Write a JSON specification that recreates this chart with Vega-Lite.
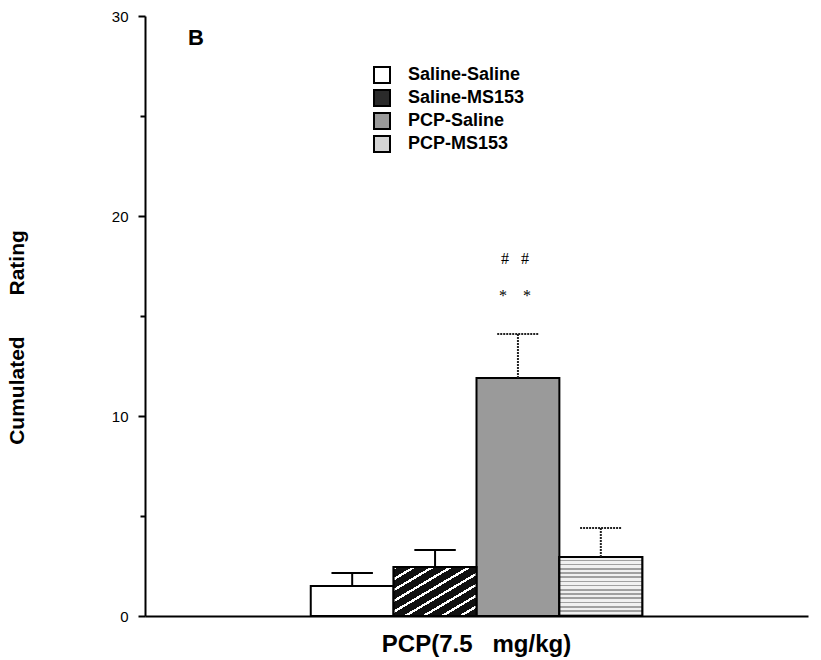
{
  "$schema": "https://vega.github.io/schema/vega-lite/v6.json",
  "width": 663,
  "height": 600,
  "autosize": {"type": "none"},
  "padding": {"left": 145, "top": 16, "right": 13, "bottom": 44},
  "background": "white",
  "config": {"view": {"stroke": null}, "font": "Liberation Sans"},
  "title": {"text": "B", "anchor": "start", "frame": "group", "dx": 43, "dy": 62, "baseline": "alphabetic", "fontSize": 22, "fontWeight": "bold", "color": "black", "font": "Liberation Sans"},
  "datasets": {
    "bars": [
      {"group": "Saline-Saline", "mean": 1.5, "upper": 2.15},
      {"group": "Saline-MS153", "mean": 2.45, "upper": 3.3},
      {"group": "PCP-Saline", "mean": 11.9, "upper": 14.1},
      {"group": "PCP-MS153", "mean": 2.95, "upper": 4.4}
    ],
    "marks": [
      {"group": "PCP-Saline", "y": 17.85, "label": "#\u00a0\u00a0\u00a0#"},
      {"group": "PCP-Saline", "y": 16.0, "label": "*\u00a0\u00a0\u00a0\u00a0*"}
    ]
  },
  "layer": [
    {
      "data": {"name": "bars"},
      "mark": {"type": "bar", "stroke": "black", "strokeWidth": 2},
      "encoding": {
        "x": {
          "field": "group", "type": "nominal",
          "scale": {"domain": ["p1", "p2", "Saline-Saline", "Saline-MS153", "PCP-Saline", "PCP-MS153", "p3", "p4"], "paddingInner": 0, "paddingOuter": 0},
          "axis": {
            "title": "PCP(7.5\u00a0\u00a0\u00a0mg/kg)",
            "labels": false, "ticks": false,
            "domainWidth": 2, "domainColor": "black",
            "titleFont": "Liberation Sans", "titleFontSize": 24, "titleFontWeight": "bold", "titleColor": "black",
            "titleX": 331, "titleY": 35, "titleBaseline": "alphabetic"
          }
        },
        "y": {
          "field": "mean", "type": "quantitative",
          "scale": {"domain": [0, 30], "nice": false},
          "axis": {
            "title": "Cumulated\u00a0\u00a0\u00a0\u00a0\u00a0\u00a0\u00a0Rating",
            "titleFont": "Liberation Sans", "titleFontSize": 21, "titleFontWeight": "bold", "titleColor": "black",
            "titleX": -118, "titleY": 321,
            "values": [0, 5, 10, 15, 20, 25, 30],
            "labelExpr": "datum.value % 10 === 0 ? datum.label : ''",
            "grid": false,
            "domainWidth": 2, "domainColor": "black",
            "tickColor": "black", "tickWidth": 2,
            "tickSize": {"condition": {"test": "datum.value % 10 === 0", "value": 7}, "value": 5},
            "labelFont": "Liberation Sans", "labelFontSize": 15, "labelColor": "black", "labelPadding": 10
          }
        },
        "fill": {
          "field": "group", "type": "nominal",
          "scale": {
            "domain": ["Saline-Saline", "Saline-MS153", "PCP-Saline", "PCP-MS153"],
            "range": ["#ffffff", "#2a2a2a", "#9a9a9a", "#d4d4d4"]
          },
          "legend": {
            "title": null, "orient": "none", "legendX": 228, "legendY": 50,
            "symbolType": "square", "symbolSize": 256, "symbolStrokeColor": "black", "symbolStrokeWidth": 2, "symbolOpacity": 1,
            "labelFont": "Liberation Sans", "labelFontSize": 18, "labelFontWeight": "bold", "labelColor": "black",
            "labelOffset": 17, "rowPadding": -1
          }
        }
      }
    },
    {
      "data": {"name": "bars"},
      "transform": [{"filter": "datum.group === 'Saline-MS153'"}],
      "mark": {"type": "bar", "stroke": "black", "strokeWidth": 2,
        "fill": {"gradient": "linear", "x1": 0, "y1": 0, "x2": 1, "y2": 1, "stops": [
          {"offset": 0, "color": "#ffffff"}, {"offset": 0.0278, "color": "#ffffff"}, {"offset": 0.0278, "color": "#111111"}, {"offset": 0.1111, "color": "#111111"},
          {"offset": 0.1111, "color": "#ffffff"}, {"offset": 0.1389, "color": "#ffffff"}, {"offset": 0.1389, "color": "#111111"}, {"offset": 0.2222, "color": "#111111"},
          {"offset": 0.2222, "color": "#ffffff"}, {"offset": 0.25, "color": "#ffffff"}, {"offset": 0.25, "color": "#111111"}, {"offset": 0.3333, "color": "#111111"},
          {"offset": 0.3333, "color": "#ffffff"}, {"offset": 0.3611, "color": "#ffffff"}, {"offset": 0.3611, "color": "#111111"}, {"offset": 0.4444, "color": "#111111"},
          {"offset": 0.4444, "color": "#ffffff"}, {"offset": 0.4722, "color": "#ffffff"}, {"offset": 0.4722, "color": "#111111"}, {"offset": 0.5556, "color": "#111111"},
          {"offset": 0.5556, "color": "#ffffff"}, {"offset": 0.5833, "color": "#ffffff"}, {"offset": 0.5833, "color": "#111111"}, {"offset": 0.6667, "color": "#111111"},
          {"offset": 0.6667, "color": "#ffffff"}, {"offset": 0.6944, "color": "#ffffff"}, {"offset": 0.6944, "color": "#111111"}, {"offset": 0.7778, "color": "#111111"},
          {"offset": 0.7778, "color": "#ffffff"}, {"offset": 0.8056, "color": "#ffffff"}, {"offset": 0.8056, "color": "#111111"}, {"offset": 0.8889, "color": "#111111"},
          {"offset": 0.8889, "color": "#ffffff"}, {"offset": 0.9167, "color": "#ffffff"}, {"offset": 0.9167, "color": "#111111"}, {"offset": 1, "color": "#111111"}
        ]}},
      "encoding": {
        "x": {"field": "group", "type": "nominal"},
        "y": {"field": "mean", "type": "quantitative"}
      }
    },
    {
      "data": {"name": "bars"},
      "transform": [{"filter": "datum.group === 'PCP-MS153'"}],
      "mark": {"type": "bar", "stroke": "black", "strokeWidth": 2,
        "fill": {"gradient": "linear", "x1": 0, "y1": 0, "x2": 0, "y2": 1, "stops": [
          {"offset": 0, "color": "#f0f0f0"}, {"offset": 0.0429, "color": "#f0f0f0"}, {"offset": 0.0429, "color": "#a0a0a0"}, {"offset": 0.0714, "color": "#a0a0a0"},
          {"offset": 0.0714, "color": "#f0f0f0"}, {"offset": 0.1143, "color": "#f0f0f0"}, {"offset": 0.1143, "color": "#a0a0a0"}, {"offset": 0.1429, "color": "#a0a0a0"},
          {"offset": 0.1429, "color": "#f0f0f0"}, {"offset": 0.1857, "color": "#f0f0f0"}, {"offset": 0.1857, "color": "#a0a0a0"}, {"offset": 0.2143, "color": "#a0a0a0"},
          {"offset": 0.2143, "color": "#f0f0f0"}, {"offset": 0.2571, "color": "#f0f0f0"}, {"offset": 0.2571, "color": "#a0a0a0"}, {"offset": 0.2857, "color": "#a0a0a0"},
          {"offset": 0.2857, "color": "#f0f0f0"}, {"offset": 0.3286, "color": "#f0f0f0"}, {"offset": 0.3286, "color": "#a0a0a0"}, {"offset": 0.3571, "color": "#a0a0a0"},
          {"offset": 0.3571, "color": "#f0f0f0"}, {"offset": 0.4, "color": "#f0f0f0"}, {"offset": 0.4, "color": "#a0a0a0"}, {"offset": 0.4286, "color": "#a0a0a0"},
          {"offset": 0.4286, "color": "#f0f0f0"}, {"offset": 0.4714, "color": "#f0f0f0"}, {"offset": 0.4714, "color": "#a0a0a0"}, {"offset": 0.5, "color": "#a0a0a0"},
          {"offset": 0.5, "color": "#f0f0f0"}, {"offset": 0.5429, "color": "#f0f0f0"}, {"offset": 0.5429, "color": "#a0a0a0"}, {"offset": 0.5714, "color": "#a0a0a0"},
          {"offset": 0.5714, "color": "#f0f0f0"}, {"offset": 0.6143, "color": "#f0f0f0"}, {"offset": 0.6143, "color": "#a0a0a0"}, {"offset": 0.6429, "color": "#a0a0a0"},
          {"offset": 0.6429, "color": "#f0f0f0"}, {"offset": 0.6857, "color": "#f0f0f0"}, {"offset": 0.6857, "color": "#a0a0a0"}, {"offset": 0.7143, "color": "#a0a0a0"},
          {"offset": 0.7143, "color": "#f0f0f0"}, {"offset": 0.7571, "color": "#f0f0f0"}, {"offset": 0.7571, "color": "#a0a0a0"}, {"offset": 0.7857, "color": "#a0a0a0"},
          {"offset": 0.7857, "color": "#f0f0f0"}, {"offset": 0.8286, "color": "#f0f0f0"}, {"offset": 0.8286, "color": "#a0a0a0"}, {"offset": 0.8571, "color": "#a0a0a0"},
          {"offset": 0.8571, "color": "#f0f0f0"}, {"offset": 0.9, "color": "#f0f0f0"}, {"offset": 0.9, "color": "#a0a0a0"}, {"offset": 0.9286, "color": "#a0a0a0"},
          {"offset": 0.9286, "color": "#f0f0f0"}, {"offset": 0.9714, "color": "#f0f0f0"}, {"offset": 0.9714, "color": "#a0a0a0"}, {"offset": 1, "color": "#a0a0a0"}
        ]}},
      "encoding": {
        "x": {"field": "group", "type": "nominal"},
        "y": {"field": "mean", "type": "quantitative"}
      }
    },
    {
      "data": {"name": "bars"},
      "transform": [{"filter": "datum.group === 'Saline-Saline' || datum.group === 'Saline-MS153'"}],
      "layer": [
        {
          "mark": {"type": "rule", "strokeWidth": 2, "color": "black"},
          "encoding": {
            "x": {"field": "group", "type": "nominal"},
            "y": {"field": "mean", "type": "quantitative"},
            "y2": {"field": "upper"}
          }
        },
        {
          "mark": {"type": "rule", "strokeWidth": 2, "color": "black"},
          "encoding": {
            "x": {"field": "group", "type": "nominal", "bandPosition": 0.25},
            "x2": {"field": "group", "bandPosition": 0.75},
            "y": {"field": "upper", "type": "quantitative"}
          }
        }
      ]
    },
    {
      "data": {"name": "bars"},
      "transform": [{"filter": "datum.group === 'PCP-Saline' || datum.group === 'PCP-MS153'"}],
      "layer": [
        {
          "mark": {"type": "rule", "strokeWidth": 2, "color": "#222222", "strokeDash": [2, 1]},
          "encoding": {
            "x": {"field": "group", "type": "nominal"},
            "y": {"field": "mean", "type": "quantitative"},
            "y2": {"field": "upper"}
          }
        },
        {
          "mark": {"type": "rule", "strokeWidth": 2, "color": "#222222", "strokeDash": [2, 1]},
          "encoding": {
            "x": {"field": "group", "type": "nominal", "bandPosition": 0.25},
            "x2": {"field": "group", "bandPosition": 0.75},
            "y": {"field": "upper", "type": "quantitative"}
          }
        }
      ]
    },
    {
      "data": {"name": "marks"},
      "mark": {"type": "text", "font": "Liberation Serif", "fontSize": 16, "color": "black", "baseline": "middle", "dx": -3},
      "encoding": {
        "x": {"field": "group", "type": "nominal"},
        "y": {"field": "y", "type": "quantitative"},
        "text": {"field": "label"}
      }
    }
  ]
}
